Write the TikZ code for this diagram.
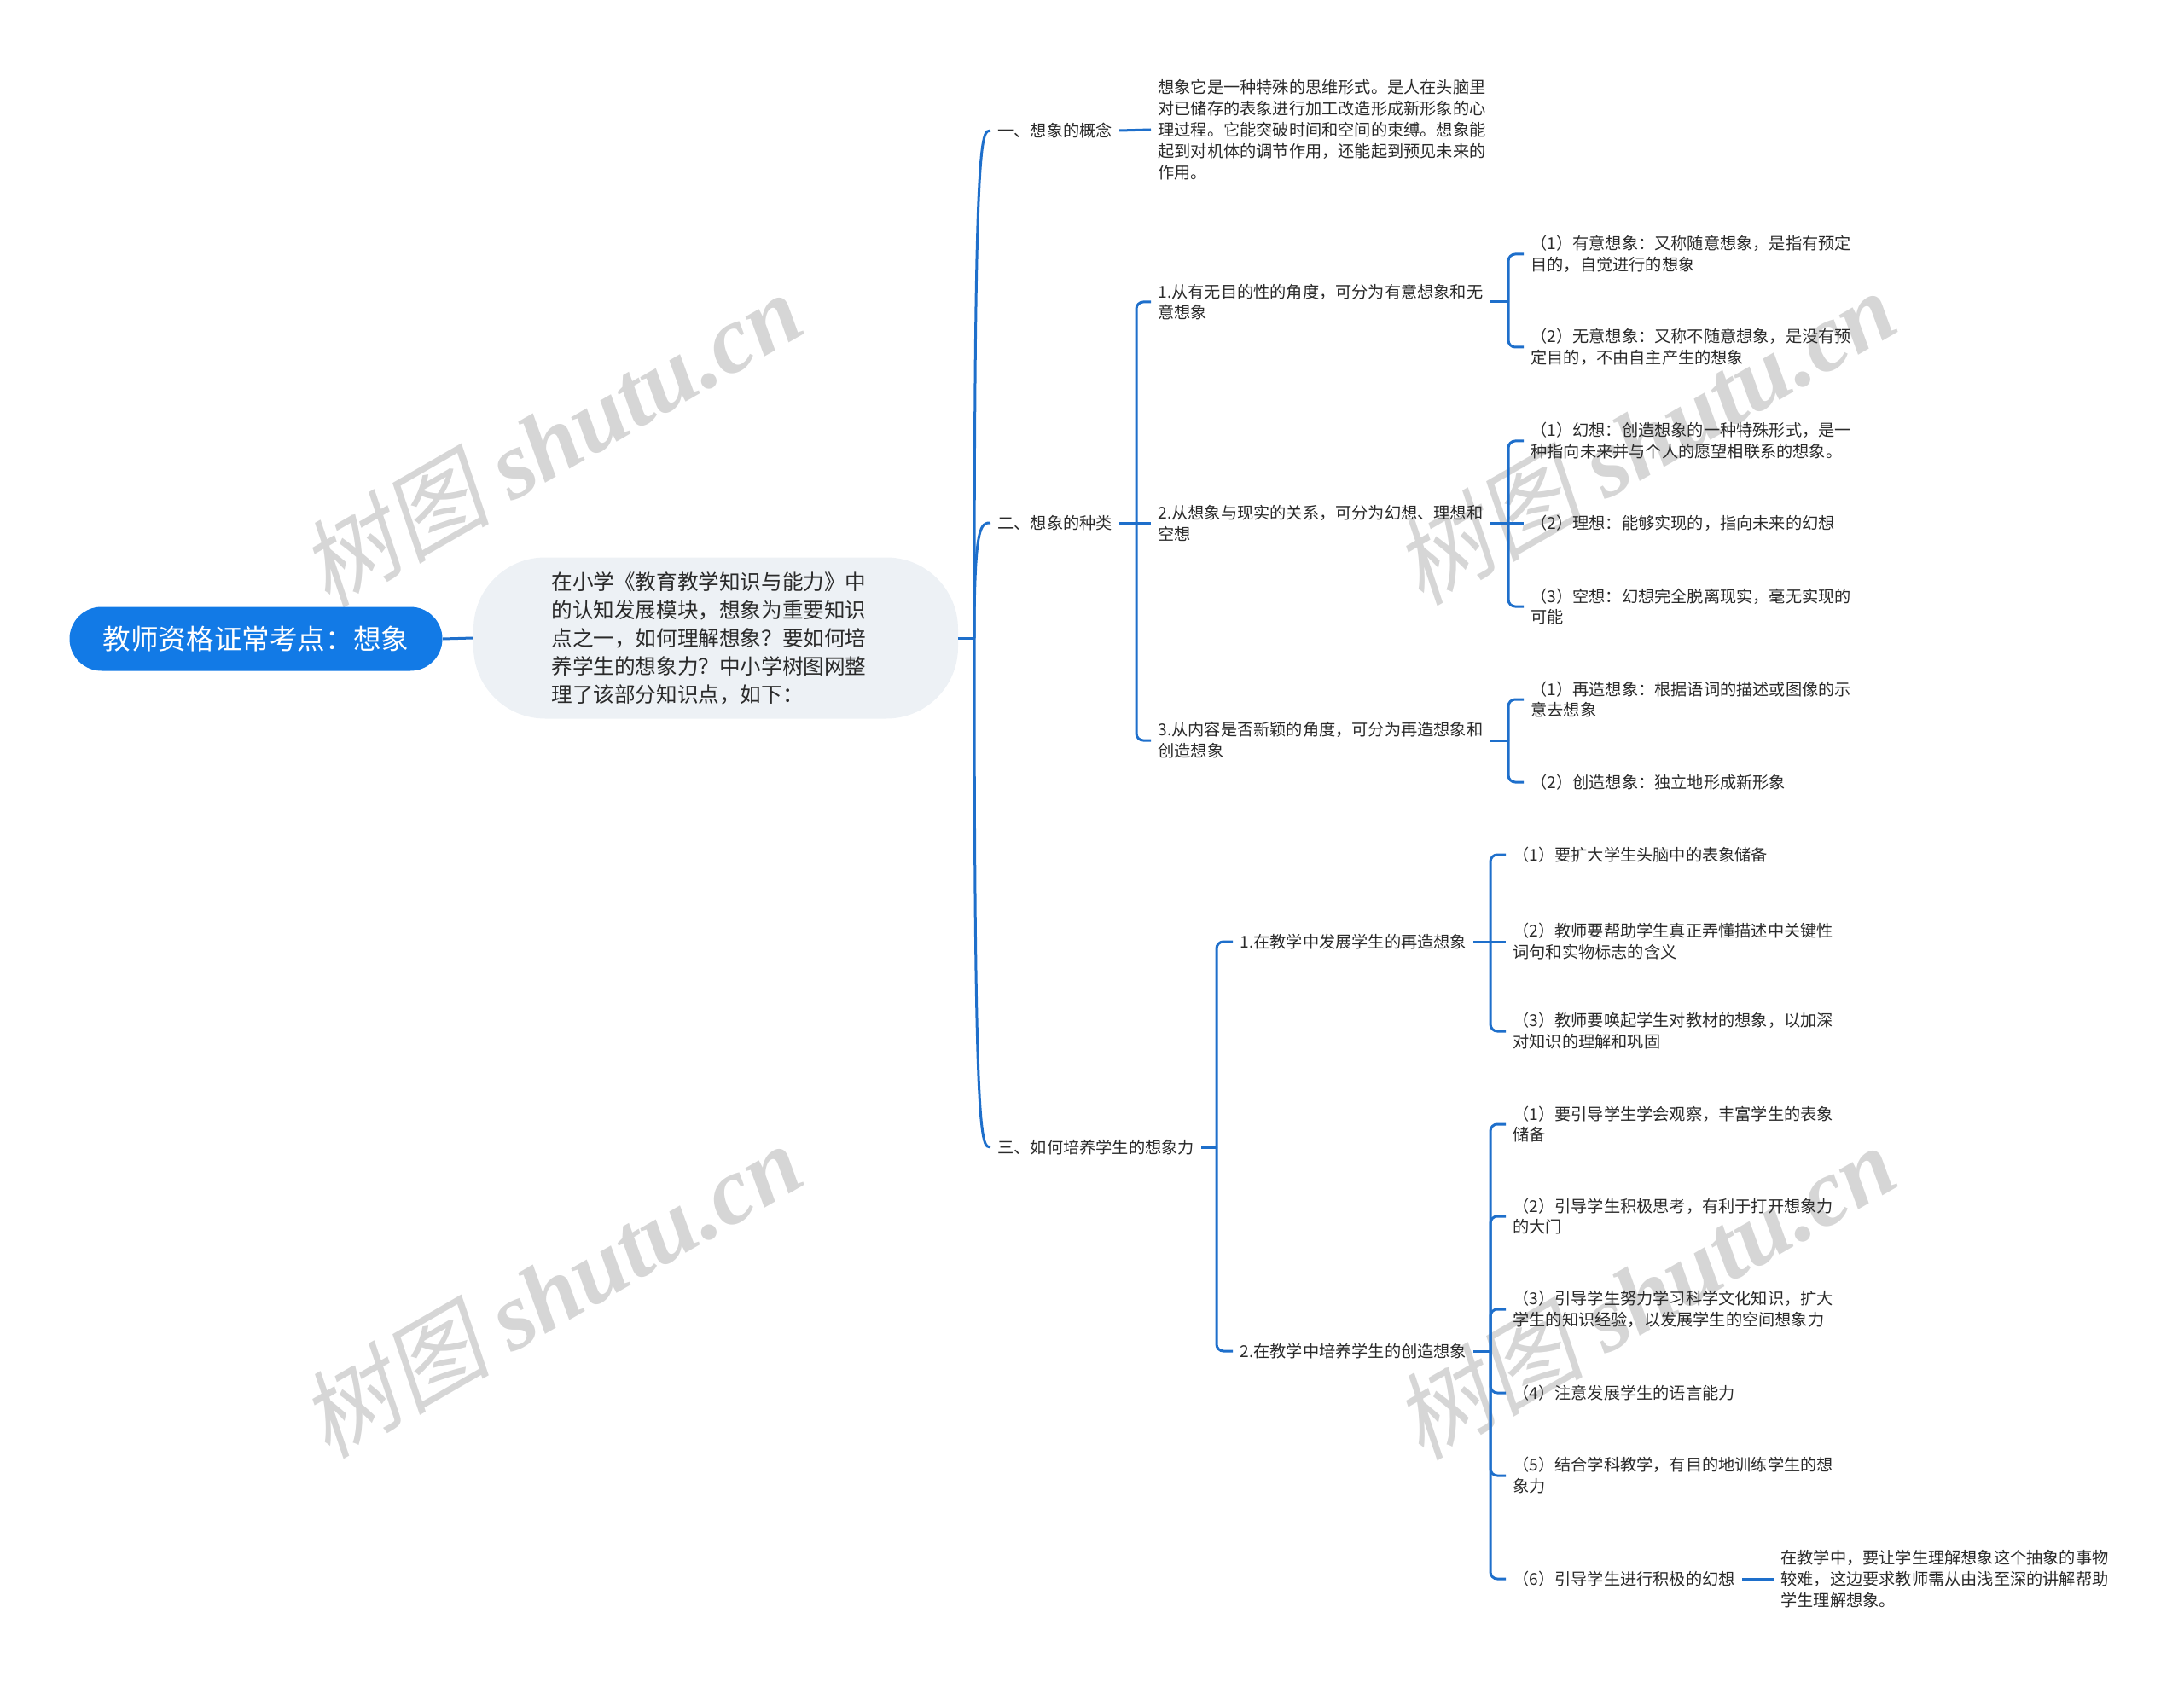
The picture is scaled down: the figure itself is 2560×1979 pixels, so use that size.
\documentclass[tikz,border=0pt]{standalone}
\usepackage{fontspec}
\setmainfont{Noto Sans CJK SC}
\newfontfamily\wmcjk{Noto Sans CJK SC}[FakeSlant=0.2]
\newfontfamily\wmlat{Liberation Serif}
\definecolor{rootblue}{HTML}{127AE6}
\definecolor{lineblue}{HTML}{1E6FCB}
\definecolor{introfill}{HTML}{EDF1F5}
\definecolor{txtc}{HTML}{2A2A2A}
\definecolor{wmc}{HTML}{D6D6D6}
\begin{document}
\begin{tikzpicture}[x=0.5pt,y=-0.5pt,
  conn/.style={draw=lineblue,line width=1.5pt},
  brk/.style={conn,rounded corners=4pt},
  lbl/.style={anchor=west,inner xsep=4pt,inner ysep=0pt,align=left,text=txtc,
    font=\fontsize{9.6pt}{12.45pt}\selectfont},
  rootbox/.style={fill=rootblue,text=white,rounded corners=18.75pt,
    minimum width=218.5pt,minimum height=37.5pt,inner sep=0pt,
    font=\fontsize{16.3pt}{18pt}\selectfont},
  introbox/.style={fill=introfill,rounded corners=42pt,
    minimum width=284pt,minimum height=94.5pt,inner sep=0pt},
  introtxt/.style={text=txtc,inner sep=0pt,align=left,
    font=\fontsize{12.3pt}{16.5pt}\selectfont},
  wm/.style={text=wmc,rotate=30,inner sep=0pt,font=\fontsize{56pt}{60pt}\selectfont}]
\useasboundingbox (0,0) rectangle (2560,1979);

% watermarks
\node[wm] (w1) at (645,514) {{\wmcjk 树图} {\wmlat\bfseries\itshape shutu.cn}};
\node[wm] (w2) at (645,1512) {{\wmcjk 树图} {\wmlat\bfseries\itshape shutu.cn}};
\node[wm] (w3) at (1927,512) {{\wmcjk 树图} {\wmlat\bfseries\itshape shutu.cn}};
\node[wm] (w4) at (1927,1514) {{\wmcjk 树图} {\wmlat\bfseries\itshape shutu.cn}};

% root and intro
\node[rootbox] (root) at (300,749) {教师资格证常考点：想象};
\node[introbox] (intro) at (839,748) {};
\node[introtxt] (introt) at (831,748) {在小学《教育教学知识与能力》中\\的认知发展模块，想象为重要知识\\点之一，如何理解想象？要如何培\\养学生的想象力？中小学树图网整\\理了该部分知识点，如下：};
\coordinate (J) at (1142,748);
\draw[conn] (root.east) -- (intro.west);
\draw[conn] (intro.east) -- (J);

% level 1
\node[lbl] (p1) at (1161,153) {一、想象的概念};
\node[lbl] (p2) at (1161,613) {二、想象的种类};
\node[lbl] (p3) at (1161,1345) {三、如何培养学生的想象力};
\draw[conn] (J) .. controls (1142,153) and (1150,153) .. (p1.west);
\draw[conn] (J) .. controls (1142,613) and (1150,613) .. (p2.west);
\draw[conn] (J) .. controls (1142,1345) and (1150,1345) .. (p3.west);

% branch one
\node[lbl] (det1) at (1349,152) {想象它是一种特殊的思维形式。是人在头脑里\\对已储存的表象进行加工改造形成新形象的心\\理过程。它能突破时间和空间的束缚。想象能\\起到对机体的调节作用，还能起到预见未来的\\作用。};
\draw[conn] (p1.east) -- (det1.west);

% branch two
\node[lbl] (c1) at (1349,354) {1.从有无目的性的角度，可分为有意想象和无\\意想象};
\node[lbl] (c2) at (1349,613) {2.从想象与现实的关系，可分为幻想、理想和\\空想};
\node[lbl] (c3) at (1349,868) {3.从内容是否新颖的角度，可分为再造想象和\\创造想象};
\coordinate (b2) at (1332,613);
\draw[conn] (p2.east) -- (b2);
\draw[brk] (b2) |- (c1.west);
\draw[conn] (b2) -- (c2.west);
\draw[brk] (b2) |- (c3.west);

\node[lbl] (g11) at (1786,298) {（1）有意想象：又称随意想象，是指有预定\\目的，自觉进行的想象};
\node[lbl] (g12) at (1786,407) {（2）无意想象：又称不随意想象，是没有预\\定目的，不由自主产生的想象};
\coordinate (b21) at (1768,354);
\draw[conn] (c1.east) -- (b21);
\draw[brk] (b21) |- (g11.west);
\draw[brk] (b21) |- (g12.west);

\node[lbl] (g21) at (1786,517) {（1）幻想：创造想象的一种特殊形式，是一\\种指向未来并与个人的愿望相联系的想象。};
\node[lbl] (g22) at (1786,613) {（2）理想：能够实现的，指向未来的幻想};
\node[lbl] (g23) at (1786,711) {（3）空想：幻想完全脱离现实，毫无实现的\\可能};
\coordinate (b22) at (1768,613);
\draw[conn] (c2.east) -- (b22);
\draw[brk] (b22) |- (g21.west);
\draw[conn] (b22) -- (g22.west);
\draw[brk] (b22) |- (g23.west);

\node[lbl] (g31) at (1786,820) {（1）再造想象：根据语词的描述或图像的示\\意去想象};
\node[lbl] (g32) at (1786,917) {（2）创造想象：独立地形成新形象};
\coordinate (b23) at (1768,868);
\draw[conn] (c3.east) -- (b23);
\draw[brk] (b23) |- (g31.west);
\draw[brk] (b23) |- (g32.west);

% branch three
\node[lbl] (d1) at (1445,1104) {1.在教学中发展学生的再造想象};
\node[lbl] (d2) at (1445,1584) {2.在教学中培养学生的创造想象};
\coordinate (b3) at (1426,1345);
\draw[conn] (p3.east) -- (b3);
\draw[brk] (b3) |- (d1.west);
\draw[brk] (b3) |- (d2.west);

\node[lbl] (h11) at (1765,1002) {（1）要扩大学生头脑中的表象储备};
\node[lbl] (h12) at (1765,1104) {（2）教师要帮助学生真正弄懂描述中关键性\\词句和实物标志的含义};
\node[lbl] (h13) at (1765,1209) {（3）教师要唤起学生对教材的想象，以加深\\对知识的理解和巩固};
\coordinate (b31) at (1747,1104);
\draw[conn] (d1.east) -- (b31);
\draw[brk] (b31) |- (h11.west);
\draw[conn] (b31) -- (h12.west);
\draw[brk] (b31) |- (h13.west);

\node[lbl] (h21) at (1765,1318) {（1）要引导学生学会观察，丰富学生的表象\\储备};
\node[lbl] (h22) at (1765,1426) {（2）引导学生积极思考，有利于打开想象力\\的大门};
\node[lbl] (h23) at (1765,1535) {（3）引导学生努力学习科学文化知识，扩大\\学生的知识经验，以发展学生的空间想象力};
\node[lbl] (h24) at (1765,1633) {（4）注意发展学生的语言能力};
\node[lbl] (h25) at (1765,1730) {（5）结合学科教学，有目的地训练学生的想\\象力};
\node[lbl] (h26) at (1765,1851) {（6）引导学生进行积极的幻想};
\coordinate (b32) at (1747,1584);
\draw[conn] (d2.east) -- (b32);
\draw[brk] (b32) |- (h21.west);
\draw[brk] (b32) |- (h22.west);
\draw[brk] (b32) |- (h23.west);
\draw[brk] (b32) |- (h24.west);
\draw[brk] (b32) |- (h25.west);
\draw[brk] (b32) |- (h26.west);

\node[lbl] (h26d) at (2079,1851) {在教学中，要让学生理解想象这个抽象的事物\\较难，这边要求教师需从由浅至深的讲解帮助\\学生理解想象。};
\draw[conn] (h26.east) -- (h26d.west);
\end{tikzpicture}
\end{document}
